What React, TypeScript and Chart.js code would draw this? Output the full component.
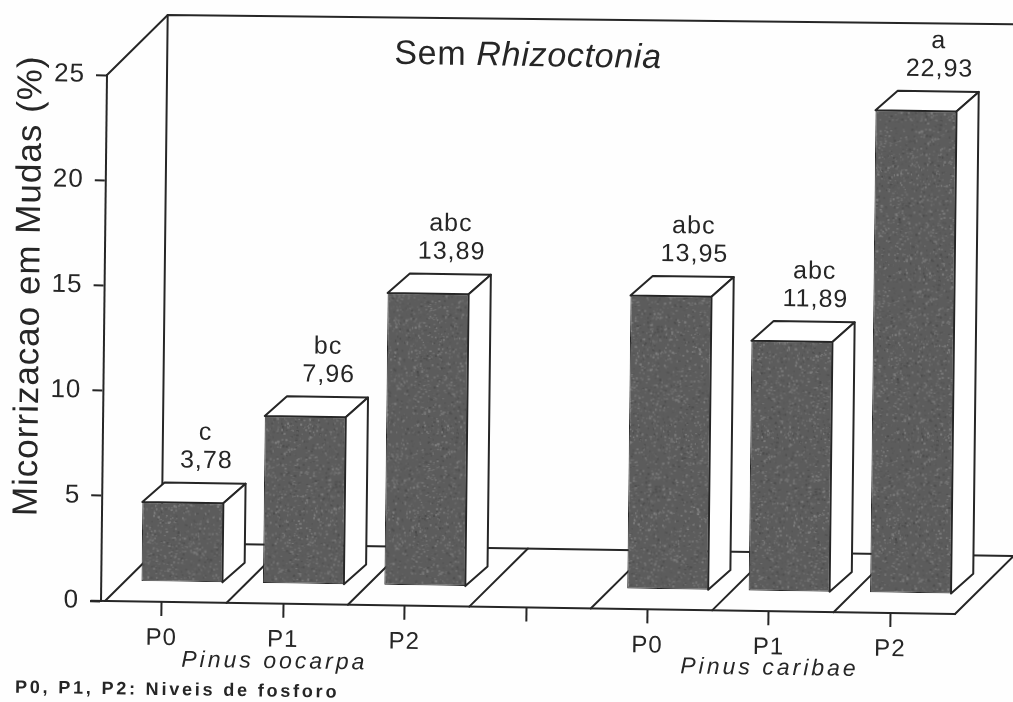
import React, { useEffect, useRef } from "react";
import { Chart, registerables } from "chart.js";

Chart.register(...registerables);

const categories = ["P0", "P1", "P2", "", "P0", "P1", "P2"];
const micorrizacao = [3.78, 7.96, 13.89, null, 13.95, 11.89, 22.93];
const letters = ["c", "bc", "abc", "", "abc", "abc", "a"];
const yMax = 25;
const yStep = 5;
const titlePlain = "Sem ";
const titleItalic = "Rhizoctonia";
const yTitle = "Micorrizacao em Mudas (%)";
const speciesA = "Pinus oocarpa";
const speciesB = "Pinus caribae";
const footnote = "P0, P1, P2: Niveis de fosforo";

const INK = "#262626";
const FONT = '"Liberation Sans", Arial, sans-serif';
const DEPTH_X = 58;
const DEPTH_Y = 59;
const FLOOR_DX = 4;
const BAR_DX = 20;
const BAR_DY = 20;
const SIDE_DX = 22;
const SIDE_DY = 20;

function makeTexture(ctx: CanvasRenderingContext2D) {
  const c = document.createElement("canvas");
  c.width = c.height = 160;
  const g = c.getContext("2d")!;
  g.fillStyle = "#5c5c5c";
  g.fillRect(0, 0, 160, 160);
  let s = 12345;
  const next = () => {
    s = (s * 1103515245 + 12345) & 0x7fffffff;
    return s / 0x7fffffff;
  };
  for (let i = 0; i < 2600; i++) {
    const v = 70 + Math.floor(next() * 70);
    g.fillStyle = `rgba(${v},${v},${v},0.7)`;
    g.fillRect(next() * 160, next() * 160, 1 + next() * 1.5, 1 + next() * 1.5);
  }
  return ctx.createPattern(c, "repeat")!;
}

function poly(ctx: CanvasRenderingContext2D, pts: number[][], fill?: string) {
  ctx.beginPath();
  pts.forEach((p, i) => (i ? ctx.lineTo(p[0], p[1]) : ctx.moveTo(p[0], p[1])));
  if (fill) {
    ctx.closePath();
    ctx.fillStyle = fill;
    ctx.fill();
  }
  ctx.stroke();
}

const scenePlugin = {
  id: "scene",
  beforeDraw(chart: any) {
    const { ctx, width, height } = chart;
    ctx.save();
    ctx.fillStyle = "#fefefe";
    ctx.fillRect(0, 0, width, height);
    // the page sits slightly askew: everything is drawn in a skewed frame
    const { left, bottom } = chart.chartArea;
    ctx.translate(left, bottom);
    ctx.transform(1, 0.0153, -0.0114, 1, 0, 0);
    ctx.translate(-left, -bottom);
    ctx.letterSpacing = "1px";
  },
  beforeDatasetsDraw(chart: any) {
    const { ctx, chartArea, scales } = chart;
    const { left, right, top, bottom } = chartArea;
    ctx.save();
    ctx.strokeStyle = INK;
    ctx.lineWidth = 2;
    ctx.lineCap = "round";
    // back wall
    poly(ctx, [
      [left, top],
      [left + DEPTH_X + 2, top - DEPTH_Y - 2],
      [right + DEPTH_X + 60, top - DEPTH_Y - 6],
    ]);
    poly(ctx, [
      [left + DEPTH_X + 2, top - DEPTH_Y - 2],
      [left + DEPTH_X + 2, bottom - DEPTH_Y],
      [right + FLOOR_DX + DEPTH_X, bottom - DEPTH_Y],
    ]);
    // floor dividers, one at every category boundary
    const step = scales.x.getPixelForValue(1) - scales.x.getPixelForValue(0);
    for (let i = 0; i <= categories.length; i++) {
      const x = scales.x.getPixelForValue(i) - step / 2 + FLOOR_DX;
      poly(ctx, [
        [x, bottom],
        [x + DEPTH_X, bottom - DEPTH_Y],
      ]);
    }
    // front edge of the floor continues to the last divider
    poly(ctx, [
      [left - 10, bottom],
      [right + FLOOR_DX, bottom],
    ]);
    ctx.restore();
  },
  beforeDatasetDraw(chart: any) {
    const { ctx } = chart;
    const meta = chart.getDatasetMeta(0);
    ctx.save();
    ctx.translate(BAR_DX, -BAR_DY);
    ctx.strokeStyle = INK;
    ctx.lineWidth = 2;
    ctx.lineJoin = "round";
    meta.data.forEach((el: any, i: number) => {
      if (micorrizacao[i] == null) return;
      const x0 = el.x - el.width / 2;
      const x1 = el.x + el.width / 2;
      poly(
        ctx,
        [
          [x0, el.y],
          [x0 + SIDE_DX, el.y - SIDE_DY],
          [x1 + SIDE_DX, el.y - SIDE_DY],
          [x1, el.y],
        ],
        "#ffffff"
      );
      poly(
        ctx,
        [
          [x1, el.y],
          [x1 + SIDE_DX, el.y - SIDE_DY],
          [x1 + SIDE_DX, el.base - SIDE_DY],
          [x1, el.base],
        ],
        "#ffffff"
      );
    });
  },
  afterDatasetDraw(chart: any) {
    chart.ctx.restore();
  },
  afterDatasetsDraw(chart: any) {
    const { ctx, chartArea } = chart;
    const { left, top, bottom } = chartArea;
    const meta = chart.getDatasetMeta(0);
    ctx.save();
    ctx.fillStyle = INK;
    ctx.textAlign = "center";
    ctx.textBaseline = "middle";
    ctx.font = `25px ${FONT}`;
    meta.data.forEach((el: any, i: number) => {
      const v = micorrizacao[i];
      if (v == null) return;
      const x = el.x + BAR_DX + 23;
      const y = el.y - BAR_DY - 42;
      ctx.fillText(v.toFixed(2).replace(".", ","), x, y);
      ctx.fillText(letters[i], x - 1, y - 28);
    });
    // vertical axis title
    ctx.save();
    ctx.translate(26, top + 212);
    ctx.rotate(-Math.PI / 2);
    ctx.font = `35px ${FONT}`;
    ctx.fillText(yTitle, 0, 0);
    ctx.restore();
    // title
    ctx.textAlign = "left";
    ctx.letterSpacing = "0.7px";
    ctx.font = `34px ${FONT}`;
    const tx = left + 287;
    const ty = top - 25;
    ctx.fillText(titlePlain, tx, ty);
    const w = ctx.measureText(titlePlain).width;
    ctx.font = `italic 34px ${FONT}`;
    ctx.fillText(titleItalic, tx + w, ty);
    // species captions and note
    ctx.letterSpacing = "3px";
    ctx.font = `italic 23px ${FONT}`;
    ctx.fillText(speciesA, left + 81, bottom + 58);
    ctx.fillText(speciesB, left + 580, bottom + 57);
    ctx.letterSpacing = "2.8px";
    ctx.font = `bold 18px ${FONT}`;
    ctx.fillText(footnote, 16, bottom + 88);
    ctx.restore();
  },
  afterDraw(chart: any) {
    chart.ctx.letterSpacing = "0px";
    chart.ctx.restore();
  },
};

export default function App() {
  const ref = useRef<HTMLCanvasElement>(null);
  useEffect(() => {
    document.body.style.margin = "0";
    const ctx = ref.current!.getContext("2d")!;
    const chart = new Chart(ctx, {
      type: "bar",
      data: {
        labels: categories,
        datasets: [
          {
            data: micorrizacao,
            backgroundColor: makeTexture(ctx) as any,
            borderColor: "#2a2a2a",
            borderWidth: 1,
            borderSkipped: false,
            barPercentage: 0.667,
            categoryPercentage: 1,
            clip: false,
          } as any,
        ],
      },
      options: {
        responsive: false,
        animation: false,
        layout: { padding: { top: 75, right: 62, left: 0, bottom: 0 } },
        plugins: { legend: { display: false }, tooltip: { enabled: false } },
        scales: {
          x: {
            afterFit: (s: any) => {
              s.height = 101;
            },
            grid: {
              offset: false,
              drawOnChartArea: false,
              drawTicks: true,
              tickLength: 14,
              tickWidth: 2,
              tickColor: INK,
            },
            border: { display: false },
            ticks: {
              color: INK,
              font: { family: FONT, size: 24 },
              padding: 8,
              autoSkip: false,
              maxRotation: 0,
            },
          },
          y: {
            min: 0,
            max: yMax,
            afterFit: (s: any) => {
              s.width = 101;
            },
            grid: {
              drawOnChartArea: false,
              drawTicks: true,
              tickLength: 11,
              tickWidth: 2,
              tickColor: INK,
            },
            border: { display: true, color: INK, width: 2 },
            ticks: {
              stepSize: yStep,
              color: INK,
              font: { family: FONT, size: 26 },
              padding: 11,
            },
          },
        },
      },
      plugins: [scenePlugin as any],
    });
    return () => chart.destroy();
  }, []);
  return (
    <canvas
      ref={ref}
      width={1013}
      height={702}
      style={{ display: "block", filter: "blur(0.4px)" }}
    />
  );
}
